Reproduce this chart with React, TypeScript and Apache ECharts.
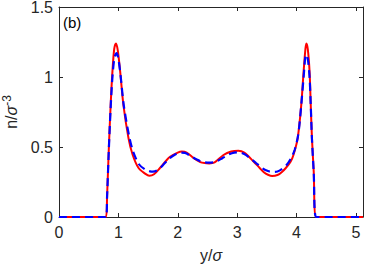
import React, { useEffect, useRef } from "react";
import * as echarts from "echarts";

const redX = [0, 0.79, 0.81, 0.84, 0.87, 0.9, 0.93, 0.96, 0.99, 1.03, 1.085, 1.17, 1.24, 1.34, 1.45, 1.52, 1.6, 1.7, 1.8, 1.87, 2.0, 2.07, 2.15, 2.27, 2.38, 2.45, 2.53, 2.62, 2.77, 2.9, 3.02, 3.12, 3.28, 3.38, 3.45, 3.52, 3.59, 3.68, 3.75, 3.82, 3.9, 3.95, 4.02, 4.08, 4.12, 4.15, 4.165, 4.19, 4.22, 4.24, 4.26, 4.29, 4.33, 5.12];
const redY = [0, 0, 0.15, 0.5, 0.8, 1.04, 1.2, 1.24, 1.19, 1.04, 0.8, 0.564, 0.445, 0.35, 0.31, 0.294, 0.305, 0.35, 0.4, 0.43, 0.46, 0.467, 0.46, 0.42, 0.392, 0.385, 0.383, 0.39, 0.443, 0.468, 0.474, 0.46, 0.395, 0.35, 0.32, 0.302, 0.293, 0.3, 0.32, 0.35, 0.395, 0.445, 0.564, 0.8, 1.04, 1.2, 1.24, 1.2, 1.04, 0.8, 0.564, 0.326, 0, 0];

const blueX = [0, 0.79, 0.81, 0.84, 0.87, 0.9, 0.935, 0.97, 1.0, 1.04, 1.09, 1.18, 1.25, 1.35, 1.45, 1.52, 1.58, 1.66, 1.75, 1.85, 1.95, 2.05, 2.12, 2.22, 2.32, 2.42, 2.53, 2.64, 2.75, 2.85, 2.95, 3.03, 3.12, 3.22, 3.32, 3.42, 3.52, 3.6, 3.68, 3.76, 3.84, 3.92, 3.97, 4.03, 4.08, 4.12, 4.16, 4.19, 4.22, 4.24, 4.26, 4.29, 4.33, 5.12];
const blueY = [0, 0, 0.15, 0.49, 0.78, 1.0, 1.14, 1.17, 1.13, 1.0, 0.8, 0.58, 0.465, 0.375, 0.34, 0.328, 0.324, 0.335, 0.37, 0.415, 0.445, 0.46, 0.458, 0.435, 0.41, 0.393, 0.388, 0.395, 0.42, 0.445, 0.46, 0.462, 0.45, 0.42, 0.385, 0.35, 0.328, 0.322, 0.325, 0.345, 0.375, 0.43, 0.48, 0.59, 0.8, 1.0, 1.16, 1.13, 1.0, 0.8, 0.56, 0.32, 0, 0];

const xTicks = [0, 1, 2, 3, 4, 5];
const yTicks = [0, 0.5, 1, 1.5];

const AXIS = "#262626";
const FONT = "Liberation Sans, Arial, sans-serif";

export default function App() {
  const ref = useRef<HTMLDivElement>(null);
  useEffect(() => {
    const chart = echarts.init(ref.current!, undefined, { renderer: "svg" });
    const red = redX.map((x, i) => [x, redY[i]]);
    const blue = blueX.map((x, i) => [x, blueY[i]]);
    const axisCommon = {
      axisLine: { show: true, onZero: false, lineStyle: { color: AXIS, width: 1 } },
      axisTick: { show: true, inside: true, length: 4, lineStyle: { color: AXIS } },
      splitLine: { show: false },
    };
    chart.setOption({
      animation: false,
      backgroundColor: "#ffffff",
      grid: { left: 59, right: 2, top: 7, bottom: 52, containLabel: false, outerBoundsMode: "none" },
      graphic: [
        {
          type: "text",
          left: 63,
          top: 15,
          style: { text: "(b)", fontSize: 15, fontFamily: FONT, fill: "#000" },
        },
      ],
      xAxis: [
        {
          type: "value",
          min: 0,
          max: 5.12,
          interval: 1,
          ...axisCommon,
          axisLabel: {
            color: AXIS,
            fontSize: 16,
            fontFamily: FONT,
            margin: 7,
            showMaxLabel: false,
            formatter: (v: number) => (xTicks.includes(v) ? String(v) : ""),
          },
          name: "{a|y/}{b|σ}",
          nameLocation: "middle",
          nameGap: 30,
          nameTextStyle: {
            rich: {
              a: { fontSize: 16, fontFamily: FONT, color: AXIS },
              b: { fontSize: 16, fontFamily: FONT, fontStyle: "italic", color: AXIS },
            },
          },
        },
        {
          type: "value",
          position: "top",
          min: 0,
          max: 5.12,
          interval: 1,
          ...axisCommon,
          axisLabel: { show: false },
        },
      ],
      yAxis: [
        {
          type: "value",
          min: 0,
          max: 1.5,
          interval: 0.5,
          ...axisCommon,
          axisLabel: {
            color: AXIS,
            fontSize: 16,
            fontFamily: FONT,
            margin: 6,
            formatter: (v: number) => (yTicks.includes(v) ? String(v) : ""),
          },
          name: "{a|n/}{b|σ}{c|-3}",
          nameLocation: "middle",
          nameRotate: 90,
          nameGap: 32,
          nameTextStyle: {
            rich: {
              a: { fontSize: 16, fontFamily: FONT, color: AXIS },
              b: { fontSize: 16, fontFamily: FONT, fontStyle: "italic", color: AXIS },
              c: { fontSize: 12, fontFamily: FONT, color: AXIS, padding: [0, 0, 10, 0] },
            },
          },
        },
        {
          type: "value",
          position: "right",
          min: 0,
          max: 1.5,
          interval: 0.5,
          ...axisCommon,
          axisLabel: { show: false },
        },
      ],
      series: [
        {
          type: "line",
          data: red,
          showSymbol: false,
          smooth: 0.3,
          lineStyle: { color: "#ff0000", width: 2 },
          z: 2,
        },
        {
          type: "line",
          data: blue,
          showSymbol: false,
          smooth: 0.3,
          lineStyle: { color: "#0000ff", width: 2.2, type: [8, 5] },
          z: 3,
        },
      ],
    });
    return () => chart.dispose();
  }, []);
  return <div ref={ref} style={{ width: 365, height: 269, position: "absolute", left: 0, top: 0 }} />;
}
